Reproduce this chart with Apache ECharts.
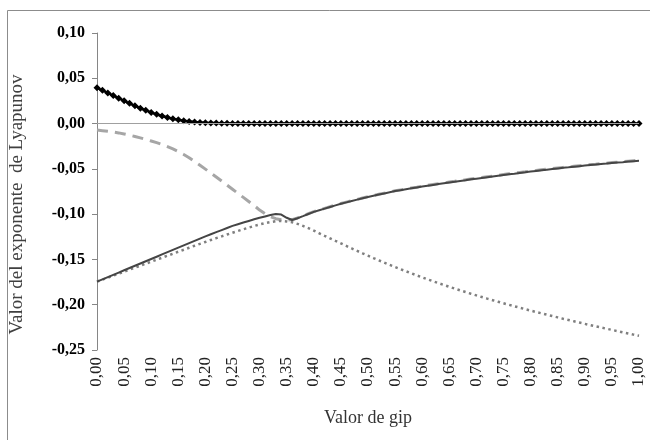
<!DOCTYPE html>
<html>
<head>
<meta charset="utf-8">
<script src="https://cdn.jsdelivr.net/npm/echarts@6/dist/echarts.min.js"></script>
<style>
  html, body { margin: 0; padding: 0; background: #fff; }
  #chart { width: 650px; height: 440px; }
</style>
</head>
<body>
<div id="chart"></div>
<script>
// valores de gip, 0,00 .. 1,00 cada 0,01
var gip = [];
for (var i = 0; i <= 100; i++) gip.push(i / 100);

// exponente con marcadores (negro)
var expMax = [
  0.0395, 0.0367, 0.0338, 0.0309, 0.0280, 0.0251, 0.0223, 0.0196, 0.0170, 0.0146,
  0.0123, 0.0102, 0.0083, 0.0067, 0.0053, 0.0041, 0.0031, 0.0023, 0.0017, 0.0013,
  0.0009, 0.0007, 0.0005, 0.0004, 0.0003, 0.0002, 0.0002, 0.0001, 0.0001, 0.0001,
  0.0001, 0.0001, 0.0001, 0.0001, 0.0001, 0.0001, 0.0001, 0.0001, 0.0001, 0.0001,
  0.0001, 0.0001, 0.0001, 0.0001, 0.0001, 0.0001, 0.0001, 0.0001, 0.0001, 0.0001,
  0.0000, 0.0000, 0.0000, 0.0000, 0.0000, 0.0000, 0.0000, 0.0000, 0.0000, 0.0000,
  0.0000, 0.0000, 0.0000, 0.0000, 0.0000, 0.0000, 0.0000, 0.0000, 0.0000, 0.0000,
  0.0000, 0.0000, 0.0000, 0.0000, 0.0000, 0.0000, 0.0000, 0.0000, 0.0000, 0.0000,
  0.0000, 0.0000, 0.0000, 0.0000, 0.0000, 0.0000, 0.0000, 0.0000, 0.0000, 0.0000,
  0.0000, 0.0000, 0.0000, 0.0000, 0.0000, 0.0000, 0.0000, 0.0000, 0.0000, 0.0000,
  0.0000
];

// linea discontinua (gris claro)
var expDash = [
  -0.0072, -0.0078, -0.0085, -0.0093, -0.0103, -0.0115, -0.0128, -0.0143, -0.0158, -0.0175,
  -0.0192, -0.0211, -0.0231, -0.0254, -0.0280, -0.0309, -0.0341, -0.0377, -0.0418, -0.0460,
  -0.0503, -0.0546, -0.0590, -0.0635, -0.0680, -0.0725, -0.0770, -0.0815, -0.0860, -0.0905,
  -0.0955, -0.0995, -0.1028, -0.1050, -0.1062, -0.1065, -0.1060, -0.1042, -0.1019, -0.0995,
  -0.0972, -0.0954, -0.0936, -0.0918, -0.0900, -0.0883, -0.0867, -0.0852, -0.0837, -0.0822,
  -0.0807, -0.0794, -0.0781, -0.0768, -0.0755, -0.0742, -0.0732, -0.0722, -0.0712, -0.0702,
  -0.0691, -0.0682, -0.0673, -0.0664, -0.0655, -0.0646, -0.0638, -0.0629, -0.0621, -0.0612,
  -0.0604, -0.0596, -0.0588, -0.0580, -0.0572, -0.0563, -0.0555, -0.0548, -0.0540, -0.0533,
  -0.0525, -0.0518, -0.0511, -0.0504, -0.0497, -0.0490, -0.0484, -0.0478, -0.0471, -0.0465,
  -0.0459, -0.0453, -0.0448, -0.0442, -0.0437, -0.0431, -0.0426, -0.0421, -0.0415, -0.0410,
  -0.0405
];

// linea continua (gris oscuro)
var expSolid = [
  -0.1745, -0.1720, -0.1695, -0.1670, -0.1645, -0.1620, -0.1595, -0.1570, -0.1545, -0.1520,
  -0.1495, -0.1470, -0.1445, -0.1420, -0.1395, -0.1370, -0.1345, -0.1320, -0.1295, -0.1270,
  -0.1245, -0.1222, -0.1199, -0.1176, -0.1153, -0.1130, -0.1111, -0.1093, -0.1075, -0.1057,
  -0.1040, -0.1025, -0.1010, -0.0998, -0.1005, -0.1040, -0.1065, -0.1045, -0.1022, -0.0998,
  -0.0975, -0.0957, -0.0939, -0.0921, -0.0903, -0.0886, -0.0870, -0.0855, -0.0840, -0.0825,
  -0.0810, -0.0797, -0.0784, -0.0771, -0.0758, -0.0745, -0.0735, -0.0725, -0.0715, -0.0705,
  -0.0695, -0.0686, -0.0677, -0.0668, -0.0659, -0.0650, -0.0642, -0.0633, -0.0625, -0.0616,
  -0.0608, -0.0600, -0.0592, -0.0584, -0.0576, -0.0568, -0.0560, -0.0553, -0.0545, -0.0538,
  -0.0530, -0.0523, -0.0516, -0.0509, -0.0502, -0.0495, -0.0489, -0.0483, -0.0476, -0.0470,
  -0.0464, -0.0458, -0.0453, -0.0447, -0.0442, -0.0436, -0.0431, -0.0426, -0.0420, -0.0415,
  -0.0410
];

// linea punteada (gris)
var expDot = [
  -0.1745, -0.1723, -0.1701, -0.1679, -0.1657, -0.1635, -0.1613, -0.1591, -0.1569, -0.1547,
  -0.1525, -0.1503, -0.1481, -0.1459, -0.1437, -0.1415, -0.1393, -0.1371, -0.1349, -0.1328,
  -0.1307, -0.1286, -0.1265, -0.1245, -0.1225, -0.1205, -0.1186, -0.1167, -0.1149, -0.1131,
  -0.1114, -0.1099, -0.1087, -0.1078, -0.1075, -0.1080, -0.1090, -0.1108, -0.1130, -0.1155,
  -0.1182, -0.1211, -0.1240, -0.1268, -0.1296, -0.1323, -0.1351, -0.1379, -0.1406, -0.1433,
  -0.1459, -0.1485, -0.1510, -0.1535, -0.1560, -0.1584, -0.1608, -0.1631, -0.1654, -0.1676,
  -0.1698, -0.1720, -0.1741, -0.1762, -0.1782, -0.1802, -0.1822, -0.1841, -0.1860, -0.1879,
  -0.1897, -0.1915, -0.1933, -0.1950, -0.1967, -0.1984, -0.2001, -0.2017, -0.2033, -0.2049,
  -0.2065, -0.2080, -0.2095, -0.2110, -0.2125, -0.2140, -0.2155, -0.2169, -0.2183, -0.2197,
  -0.2211, -0.2225, -0.2239, -0.2252, -0.2265, -0.2278, -0.2291, -0.2304, -0.2317, -0.2330,
  -0.2343
];

function pares(ys) {
  return gip.map(function (x, i) { return [x, ys[i]]; });
}
function coma(v) {
  return v.toFixed(2).replace('.', ',');
}

var serif = 'Liberation Serif';
var chart = echarts.init(document.getElementById('chart'));

var option = {
  animation: false,
  backgroundColor: '#fff',
  graphic: [{
    type: 'rect',
    shape: { x: 7.5, y: 10.5, width: 700, height: 500 },
    style: { fill: 'none', stroke: '#8c8c8c', lineWidth: 1 },
    silent: true
  }],
  grid: { left: 97, right: 11, top: 33, bottom: 90 },
  xAxis: {
    type: 'value',
    min: 0,
    max: 1,
    interval: 0.05,
    name: 'Valor de gip',
    nameLocation: 'middle',
    nameGap: 59,
    nameTextStyle: { fontFamily: serif, fontSize: 18, color: '#333' },
    axisLine: { show: false, onZero: false },
    axisTick: { show: false },
    splitLine: { show: false },
    axisLabel: {
      rotate: 90,
      margin: 7,
      fontFamily: serif,
      fontSize: 17,
      color: '#222',
      formatter: coma
    }
  },
  yAxis: {
    type: 'value',
    min: -0.25,
    max: 0.10,
    interval: 0.05,
    name: 'Valor del exponente  de Lyapunov',
    nameLocation: 'middle',
    nameGap: 70,
    nameTextStyle: { fontFamily: serif, fontSize: 19, color: '#404040', padding: [0, 26, 0, 0] },
    axisLine: { show: true, lineStyle: { color: '#868686' } },
    axisTick: { show: true, length: 5, lineStyle: { color: '#868686' } },
    splitLine: { show: false },
    axisLabel: {
      margin: 12,
      fontFamily: serif,
      fontSize: 16,
      fontWeight: 'bold',
      color: '#000',
      formatter: coma
    }
  },
  series: [
    {
      name: 'discontinua',
      type: 'line',
      data: pares(expDash),
      showSymbol: false,
      lineStyle: { color: '#a6a6a6', width: 3, type: [11, 7] },
      markLine: {
        silent: true,
        symbol: 'none',
        label: { show: false },
        lineStyle: { color: '#a0a0a0', width: 1, type: 'solid' },
        data: [{ yAxis: 0 }]
      }
    },
    {
      name: 'punteada',
      type: 'line',
      data: pares(expDot),
      showSymbol: false,
      lineStyle: { color: '#7f7f7f', width: 2.5, type: [2.5, 3.5] }
    },
    {
      name: 'continua',
      type: 'line',
      data: pares(expSolid),
      showSymbol: false,
      lineStyle: { color: '#454545', width: 2 }
    },
    {
      name: 'maximo',
      type: 'line',
      data: pares(expMax),
      symbol: 'diamond',
      symbolSize: 7,
      itemStyle: { color: '#000' },
      lineStyle: { color: '#000', width: 2.5 }
    }
  ]
};

chart.setOption(option);
</script>
</body>
</html>
